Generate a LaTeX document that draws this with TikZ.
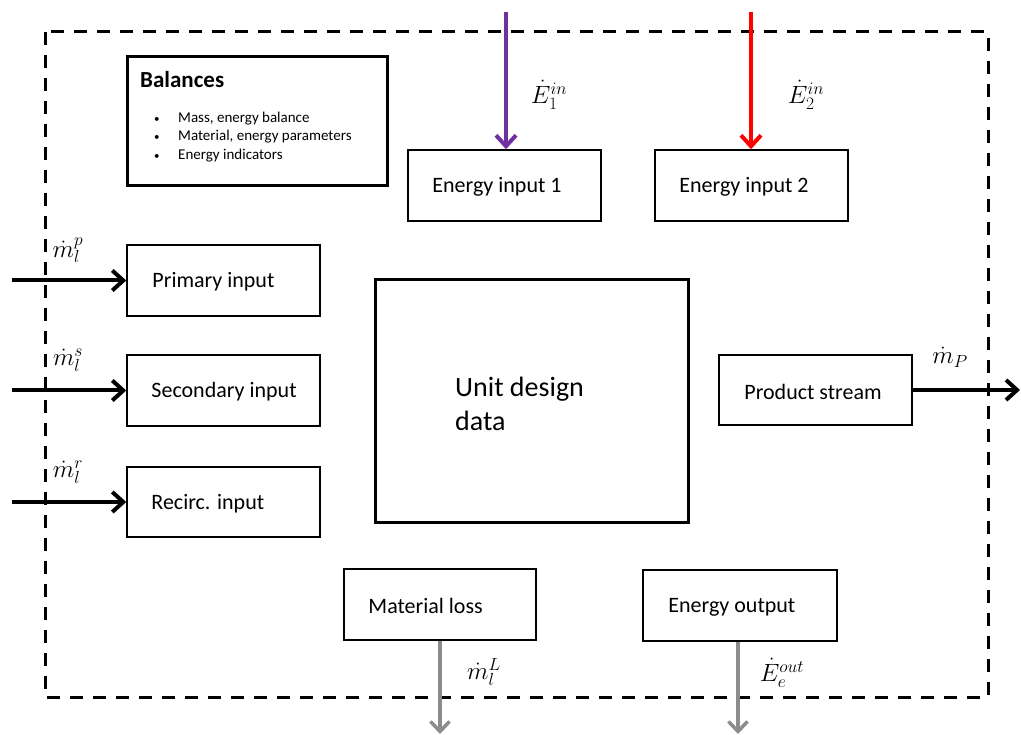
\RequirePackage{fix-cm}
\documentclass[tikz,border=0pt]{standalone}
\usepackage{fontspec}
\setmainfont{Carlito}
\usetikzlibrary{arrows.meta}
\definecolor{flowpurple}{HTML}{7030A0}
\definecolor{flowgray}{HTML}{8C8C8C}
\newcommand{\smallbullet}{\makebox[25pt][l]{\hspace{1pt}\fontsize{11}{11}\selectfont\textbullet}}
\begin{document}
\begin{tikzpicture}[x=1pt,y=-1pt,
  box/.style={draw,line width=1.5pt,minimum width=193pt,minimum height=71pt,inner sep=0pt},
  heavybox/.style={draw,line width=3pt,inner sep=0pt},
  lbl/.style={inner sep=0pt,anchor=west,yshift=-1.5pt,font=\fontsize{22}{26}\selectfont},
  sym/.style={inner sep=0pt,font=\fontsize{25}{30}\selectfont},
  tip/.style={-{Straight Barb[length=11pt,width=20pt,line width=4pt]}},
  flow/.style={tip,line width=4pt},
  outflow/.style={-{Straight Barb[length=10pt,width=19pt,line width=3.5pt]},line width=3.5pt,draw=flowgray}
]
\useasboundingbox (0,0) rectangle (1021,735);

% system boundary
\draw[line width=3pt,dash pattern=on 13pt off 10pt] (45,32) rectangle (988,697);

% balances panel
\node[heavybox,minimum width=260pt,minimum height=129pt] (bal) at (257,121.5) {};
\node[inner sep=0pt,anchor=west,font=\fontsize{23}{26}\selectfont\bfseries] (baltitle) at (140,80) {Balances};
\node[inner sep=0pt,anchor=west,align=left,font=\fontsize{15}{18.5}\selectfont] (ballist) at (153,137)
  {\smallbullet Mass, energy balance\\
   \smallbullet Material, energy parameters\\
   \smallbullet Energy indicators};

% unit blocks
\node[box] (ein1) at (504.5,185.5) {};
\node[box] (ein2) at (751.5,185.5) {};
\node[box] (prim) at (223.5,280.5) {};
\node[box] (sec)  at (223.5,390.5) {};
\node[box,minimum height=70pt] (rec)  at (223.5,502) {};
\node[box,minimum height=70pt] (prod) at (815.5,390) {};
\node[box,minimum width=192pt] (loss) at (440,604.5) {};
\node[box,minimum width=194pt] (eout) at (740,605.5) {};
\node[heavybox,minimum width=313pt,minimum height=242pt] (unit) at (531.5,401) {};

\node[lbl] (tein1) at ([xshift=25pt]ein1.west) {Energy input 1};
\node[lbl] (tein2) at ([xshift=25pt]ein2.west) {Energy input 2};
\node[lbl] (tprim) at ([xshift=26pt]prim.west) {Primary input};
\node[lbl] (tsec)  at ([xshift=25pt]sec.west)  {Secondary input};
\node[lbl] (trec)  at ([xshift=25pt]rec.west)  {Recirc. input};
\node[lbl] (tprod) at ([xshift=26pt]prod.west) {Product stream};
\node[lbl] (tloss) at ([xshift=25pt]loss.west) {Material loss};
\node[lbl] (teout) at ([xshift=26pt]eout.west) {Energy output};
\node[inner sep=0pt,anchor=west,align=left,font=\fontsize{28}{34}\selectfont] (tunit) at (455,404) {Unit design\\data};

% stream end points
\coordinate (src1) at (506,12);
\coordinate (src2) at (751,12);
\coordinate (srcp) at (12,280.5);
\coordinate (srcs) at (12,390.5);
\coordinate (srcr) at (12,502);
\coordinate (sinkp) at (1020,390);
\coordinate (sinkl) at (440,734);
\coordinate (sinke) at (738,734);

% energy inputs
\draw[flow,draw=flowpurple] (src1) -- (src1 |- ein1.north);
\draw[flow,draw=red] (src2) -- (src2 |- ein2.north);
% material inputs
\draw[flow] (srcp) -- (prim.west);
\draw[flow] (srcs) -- (sec.west);
\draw[flow] (srcr) -- (rec.west);
% product
\draw[flow] (prod.east) -- (sinkp);
% losses
\draw[outflow] (loss.south) -- (sinkl);
\draw[outflow] (sinke |- eout.south) -- (sinke);

% stream symbols
\node[sym] (le1) at (549,95) {$\dot{E}_1^{in}$};
\node[sym] (le2) at (806,95) {$\dot{E}_2^{in}$};
\node[sym] (lmp) at (68,250) {$\dot{m}_l^{p}$};
\node[sym] (lms) at (68,360) {$\dot{m}_l^{s}$};
\node[sym] (lmr) at (68,472) {$\dot{m}_l^{r}$};
\node[sym] (lmP) at (950,357) {$\dot{m}_P$};
\node[sym] (lmL) at (484,672) {$\dot{m}_l^{L}$};
\node[sym] (leo) at (782,673) {$\dot{E}_e^{out}$};
\end{tikzpicture}
\end{document}
